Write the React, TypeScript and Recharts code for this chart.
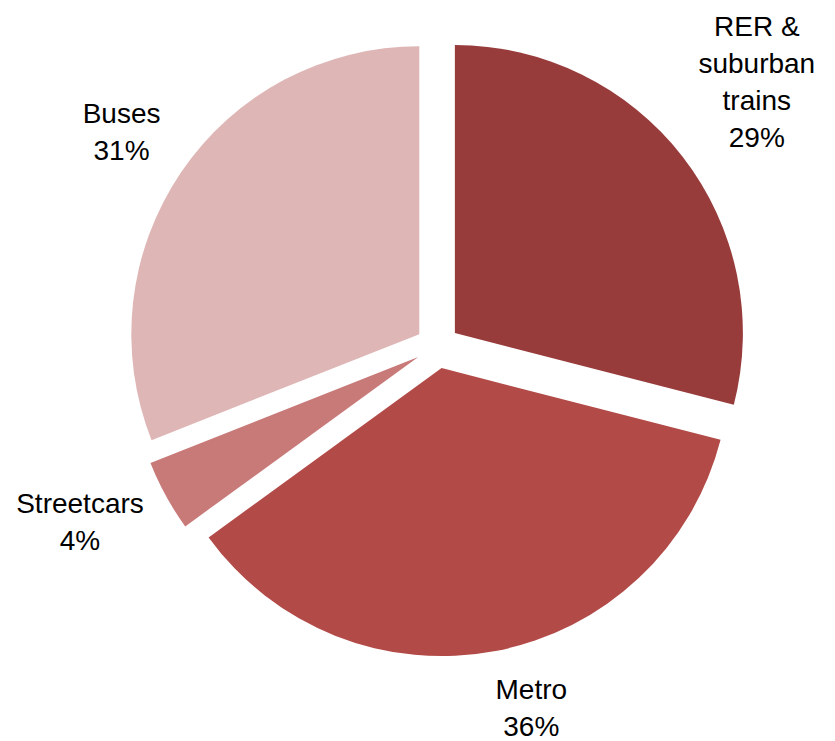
import { PieChart, Pie, Cell } from "recharts";

const categories = ["RER & suburban trains", "Metro", "Streetcars", "Buses"];
const shares = [29, 36, 4, 31];
const labelLines = [["RER &", "suburban", "trains"], ["Metro"], ["Streetcars"], ["Buses"]];

const COLORS = ["#983B3B", "#B24A47", "#C87A79", "#DFB6B6"];

// label placement: distance from slice center and small angle tweak (deg, clockwise)
const LABEL_DIST = [393, 351, 376, 360];
const LABEL_SHIFT = [-2, -4, 2.9, 0];

const W = 835;
const H = 741;
const CX = 437.5;
const CY = 346.5;
const R = 288;
const EXPLODE = 22;
const LINE_H = 37.3;

const data = categories.map((name, i) => ({ name, value: shares[i] }));
const total = shares.reduce((a, b) => a + b, 0);

// mid angle of each slice, clockwise from 12 o'clock, in degrees
const midAngles = shares.map((v, i) => {
  const before = shares.slice(0, i).reduce((a, b) => a + b, 0);
  return ((before + v / 2) / total) * 360;
});

const rad = (d: number) => (d * Math.PI) / 180;

export default function App() {
  return (
    <div style={{ position: "absolute", left: 0, top: 0, background: "#fff" }}>
      <PieChart width={W} height={H} margin={{ top: 0, right: 0, bottom: 0, left: 0 }}>
        {data.map((_, k) => {
          const a = rad(midAngles[k]);
          const cx = CX + EXPLODE * Math.sin(a);
          const cy = CY - EXPLODE * Math.cos(a);
          const renderLabel = (p: { index: number }) => {
            if (p.index !== k) return <g key={`l-${k}-${p.index}`} />;
            const la = rad(midAngles[k] + LABEL_SHIFT[k]);
            const lx = cx + LABEL_DIST[k] * Math.sin(la);
            const ly = cy - LABEL_DIST[k] * Math.cos(la);
            const lines = [...labelLines[k], `${shares[k]}%`];
            const y0 = ly - ((lines.length - 1) * LINE_H) / 2;
            return (
              <text
                key={`l-${k}`}
                x={lx}
                y={y0}
                textAnchor="middle"
                dominantBaseline="central"
                fontFamily="'Liberation Sans', Arial, sans-serif"
                fontSize={28}
                fill="#000"
              >
                {lines.map((t, j) => (
                  <tspan key={j} x={lx} y={y0 + j * LINE_H}>
                    {t}
                  </tspan>
                ))}
              </text>
            );
          };
          return (
            <Pie
              key={k}
              data={data}
              dataKey="value"
              nameKey="name"
              cx={cx}
              cy={cy}
              innerRadius={0}
              outerRadius={R}
              startAngle={90}
              endAngle={-270}
              stroke="none"
              isAnimationActive={false}
              labelLine={false}
              label={renderLabel}
            >
              {data.map((_, i) => (
                <Cell
                  key={`c-${i}`}
                  fill={i === k ? COLORS[i] : "transparent"}
                  stroke="none"
                />
              ))}
            </Pie>
          );
        })}
      </PieChart>
    </div>
  );
}
